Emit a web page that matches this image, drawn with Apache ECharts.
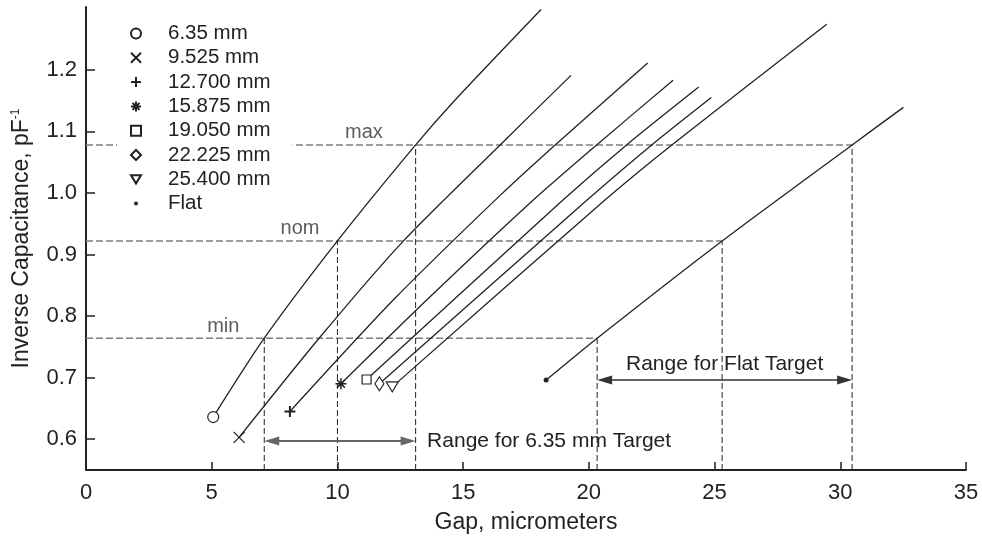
<!DOCTYPE html>
<html>
<head>
<meta charset="utf-8">
<script src="https://cdn.jsdelivr.net/npm/echarts@6/dist/echarts.min.js"></script>
<style>
  html, body { margin: 0; padding: 0; background: #fff; }
  #chart { width: 982px; height: 540px; }
</style>
</head>
<body>
<div id="chart"></div>
<script>
// Inverse capacitance vs. gap, one curve per target diameter plus a flat target.
// Each curve is [gap (micrometers), inverse capacitance (1/pF)].
const curve635   = [[5.06, 0.636], [7.09, 0.764], [10.0, 0.922], [13.11, 1.078], [14.68, 1.151], [18.1, 1.298]];
const curve9525  = [[6.09, 0.603], [9.27, 0.764], [12.6, 0.921], [16.47, 1.078], [19.29, 1.191]];
const curve12700 = [[8.11, 0.645], [12.22, 0.826], [16.47, 0.996], [18.66, 1.078], [22.34, 1.211]];
const curve15875 = [[10.14, 0.690], [13.55, 0.826], [17.79, 0.9885], [20.31, 1.078], [23.35, 1.183]];
const curve19050 = [[11.16, 0.697], [18.97, 0.9885], [21.5, 1.078], [24.37, 1.172]];
const curve22225 = [[11.67, 0.690], [19.93, 0.9885], [22.5, 1.078], [24.87, 1.155]];
const curve25400 = [[12.18, 0.685], [20.64, 0.9885], [23.3, 1.078], [29.46, 1.274]];
const curveFlat  = [[18.30, 0.696], [20.33, 0.764], [25.30, 0.922], [30.47, 1.078], [32.51, 1.139]];

const targetNames = ['6.35 mm', '9.525 mm', '12.700 mm', '15.875 mm', '19.050 mm', '22.225 mm', '25.400 mm', 'Flat'];
const targetCurves = [curve635, curve9525, curve12700, curve15875, curve19050, curve22225, curve25400, curveFlat];

// Operating levels and the gaps where the 6.35 mm and flat curves reach them
const levelNames  = ['min', 'nom', 'max'];
const levelValues = [0.764, 0.922, 1.078];
const roundCross  = [7.09, 10.0, 13.11];
const flatCross   = [20.33, 25.30, 30.47];
const levelLabelGap = [4.82, 7.74, 10.30];

const xTicks = [0, 5, 10, 15, 20, 25, 30, 35];
const yTicks = [0.6, 0.7, 0.8, 0.9, 1.0, 1.1, 1.2];

// Range arrows: [from gap, to gap, inverse capacitance where the arrow is drawn]
const roundRange = [roundCross[0], roundCross[2], 0.597];
const flatRange  = [flatCross[0], flatCross[2], 0.696];
const rangeTexts = ['Range for 6.35 mm Target', 'Range for Flat Target'];

const FONT = '"Liberation Sans", Arial, Helvetica, sans-serif';
const INK = '#222';

// Plot frame, used to keep arrow tips on the range limits
const GRID = { left: 86, right: 16, top: 7, bottom: 70 };
const X_MIN = 0, X_MAX = 35;
const ARROW_LEN = 15;
const tipInset = (ARROW_LEN / 2) * (X_MAX - X_MIN) / (982 - GRID.left - GRID.right);

// Marker per target (symbol, size, fill, stroke width)
const markerStyles = [
  { symbol: 'circle', size: 11, fill: '#fff', bw: 1.2 },
  { symbol: 'path://M0,0L10,10M10,0L0,10', size: 11, fill: '#fff', bw: 1.2 },
  { symbol: 'path://M5,0L5,10M0,5L10,5', size: 11, fill: '#fff', bw: 2 },
  { symbol: 'path://M5,0L5,10M0,5L10,5M1.5,1.5L8.5,8.5M8.5,1.5L1.5,8.5', size: 11, fill: '#fff', bw: 1.5 },
  { symbol: 'rect', size: 9, fill: '#fff', bw: 1.2 },
  { symbol: 'diamond', size: [9, 14], fill: '#fff', bw: 1.2 },
  { symbol: 'path://M0,0L12,0L6,10Z', size: [12, 10], fill: '#fff', bw: 1.2 },
  { symbol: 'circle', size: 5, fill: INK, bw: 0 }
];
const legendIcons = [
  'circle', markerStyles[1].symbol, markerStyles[2].symbol, markerStyles[3].symbol,
  'rect', 'diamond', markerStyles[6].symbol,
  'path://M0,0M10,10M3,5a2,2 0 1,0 4,0a2,2 0 1,0 -4,0Z'
];

const series = [];

// Horizontal level guides (grey dashes) from the axis to the flat-target curve
levelValues.forEach((lv, i) => {
  series.push({
    type: 'line', silent: true, symbol: 'none', z: 1,
    data: [[0, lv], [flatCross[i], lv]],
    lineStyle: { color: '#7d7d7d', width: 1.5, type: [7, 3] }
  });
});

// Vertical drops (black dashes) from each crossing down to the gap axis
levelValues.forEach((lv, i) => {
  [roundCross[i], flatCross[i]].forEach(g => {
    series.push({
      type: 'line', silent: true, symbol: 'none', z: 1,
      data: [[g, 0.55], [g, lv]],
      lineStyle: { color: INK, width: 1, type: [6, 3] }
    });
  });
});

// Curves
targetCurves.forEach(pts => {
  series.push({
    type: 'line', silent: true, symbol: 'none', z: 3,
    smooth: 0.25,
    data: pts,
    lineStyle: { color: INK, width: 1.3 }
  });
});

// Start markers, one series per target so the legend can list them
targetCurves.forEach((pts, i) => {
  const m = markerStyles[i];
  series.push({
    name: targetNames[i],
    type: 'scatter', silent: true, z: 4,
    symbol: m.symbol, symbolSize: m.size,
    data: [pts[0]],
    itemStyle: { color: m.fill, borderColor: INK, borderWidth: m.bw, opacity: 1 }
  });
});

// Level labels
series.push({
  type: 'scatter', silent: true, symbolSize: 0, z: 5,
  data: levelNames.map((n, i) => ({ name: n, value: [levelLabelGap[i], levelValues[i]] })),
  label: {
    show: true, position: 'inside', align: 'left', verticalAlign: 'bottom',
    formatter: p => p.name, fontFamily: FONT, fontSize: 20, color: '#333', offset: [0, -2]
  }
});

// Range arrows with their captions
const arrowLabel = { show: true, fontFamily: FONT, fontSize: 21, color: INK };
series.push({
  type: 'line', silent: true, data: [], z: 5,
  markLine: {
    silent: true, animation: false,
    symbol: ['triangle', 'triangle'], symbolSize: [9, ARROW_LEN],
    data: [
      [
        {
          coord: [roundRange[0] + tipInset, roundRange[2]],
          lineStyle: { color: '#666', width: 1.8, type: 'solid' },
          label: Object.assign({ position: 'end', distance: 19, formatter: rangeTexts[0] }, arrowLabel)
        },
        { coord: [roundRange[1] - tipInset, roundRange[2]] }
      ],
      [
        {
          coord: [flatRange[0] + tipInset, flatRange[2]],
          lineStyle: { color: '#333', width: 1.5, type: 'solid' },
          label: Object.assign({ position: 'insideMiddleTop', distance: 5, formatter: rangeTexts[1] }, arrowLabel)
        },
        { coord: [flatRange[1] - tipInset, flatRange[2]] }
      ]
    ]
  }
});

const chart = echarts.init(document.getElementById('chart'), null, { renderer: 'canvas' });
chart.setOption({
  animation: false,
  backgroundColor: '#fff',
  grid: Object.assign({ containLabel: false }, GRID),
  legend: {
    orient: 'vertical', left: 117, top: 13, selectedMode: false,
    backgroundColor: '#fff', padding: [10, 22, 10, 13],
    itemWidth: 10, itemHeight: 10, itemGap: 3.3,
    textStyle: { fontFamily: FONT, fontSize: 20.5, color: INK, lineHeight: 20, padding: [0, 0, 0, 22] },
    data: targetNames.map((n, i) => ({ name: n, icon: legendIcons[i] }))
  },
  xAxis: {
    type: 'value', min: X_MIN, max: X_MAX, interval: 5,
    name: 'Gap, micrometers', nameLocation: 'middle', nameGap: 41,
    nameTextStyle: { fontFamily: FONT, fontSize: 23, color: INK },
    axisLine: { show: true, onZero: false, lineStyle: { color: INK, width: 2 } },
    axisTick: { show: true, inside: true, length: 8, customValues: xTicks, lineStyle: { color: INK, width: 1.5 } },
    axisLabel: { customValues: xTicks, fontFamily: FONT, fontSize: 22, color: INK, margin: 12 },
    splitLine: { show: false }
  },
  yAxis: {
    type: 'value', min: 0.55, max: 1.302,
    name: 'Inverse Capacitance, pF{sup|-1}', nameLocation: 'middle', nameGap: 53,
    nameTextStyle: {
      fontFamily: FONT, fontSize: 23, color: INK,
      rich: { sup: { fontFamily: FONT, fontSize: 12, color: INK, verticalAlign: 'top' } }
    },
    axisLine: { show: true, onZero: false, lineStyle: { color: INK, width: 2 } },
    axisTick: { show: true, inside: true, length: 9, customValues: yTicks, lineStyle: { color: INK, width: 1.5 } },
    axisLabel: { customValues: yTicks, formatter: v => v.toFixed(1), fontFamily: FONT, fontSize: 22, color: INK, margin: 9 },
    splitLine: { show: false }
  },
  series
});
</script>
</body>
</html>
